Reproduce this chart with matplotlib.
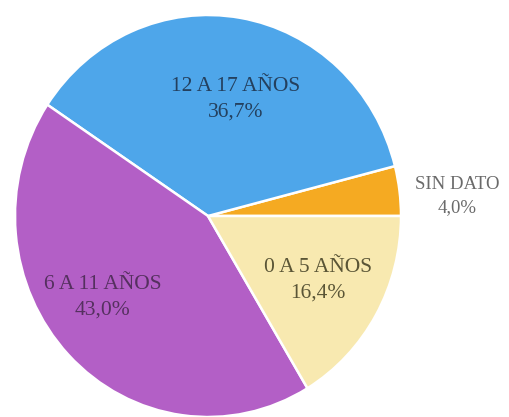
import matplotlib
matplotlib.use("Agg")
import matplotlib.pyplot as plt

categories = ["SIN DATO", "12 A 17 AÑOS", "6 A 11 AÑOS", "0 A 5 AÑOS"]
values = [4.0, 36.7, 43.0, 16.4]
value_labels = ["4,0%", "36,7%", "43,0%", "16,4%"]

colors = ["#f5aa22", "#4ea6ea", "#b35fc6", "#f8e9b0"]
text_colors = ["#6a6a6a", "#24405e", "#55305f", "#5a5536"]

W, H = 510, 417
fig = plt.figure(figsize=(W / 100, H / 100), dpi=100)
ax = fig.add_axes([0, 0, 1, 1])

cx, cy = 208, 216   # pie centre in pixels (from top-left)
rx, ry = 193, 201   # radii in pixels

ax.pie(values, colors=colors, startangle=0, counterclock=True,
       wedgeprops=dict(edgecolor="white", linewidth=1.8))
ax.set_aspect("auto")
ax.set_xlim(-cx / rx, (W - cx) / rx)
ax.set_ylim(-(H - cy) / ry, cy / ry)
ax.axis("off")

def px2data(px, py):
    return (px - cx) / rx, (cy - py) / ry

label_px = [(457, 196), (236, 99), (103, 297), (318, 280)]
font = ["Liberation Serif", "DejaVu Serif"]
sizes = [13.5, 15.5, 15.5, 15.5]
for cat, vl, (px, py), tc, fs in zip(categories, value_labels, label_px, text_colors, sizes):
    x, y = px2data(px, py)
    ax.text(x, y, f"{cat}\n{vl}", ha="center", va="center", fontsize=fs,
            family=font, color=tc, linespacing=1.45)

fig.savefig("out.png", dpi=100)
